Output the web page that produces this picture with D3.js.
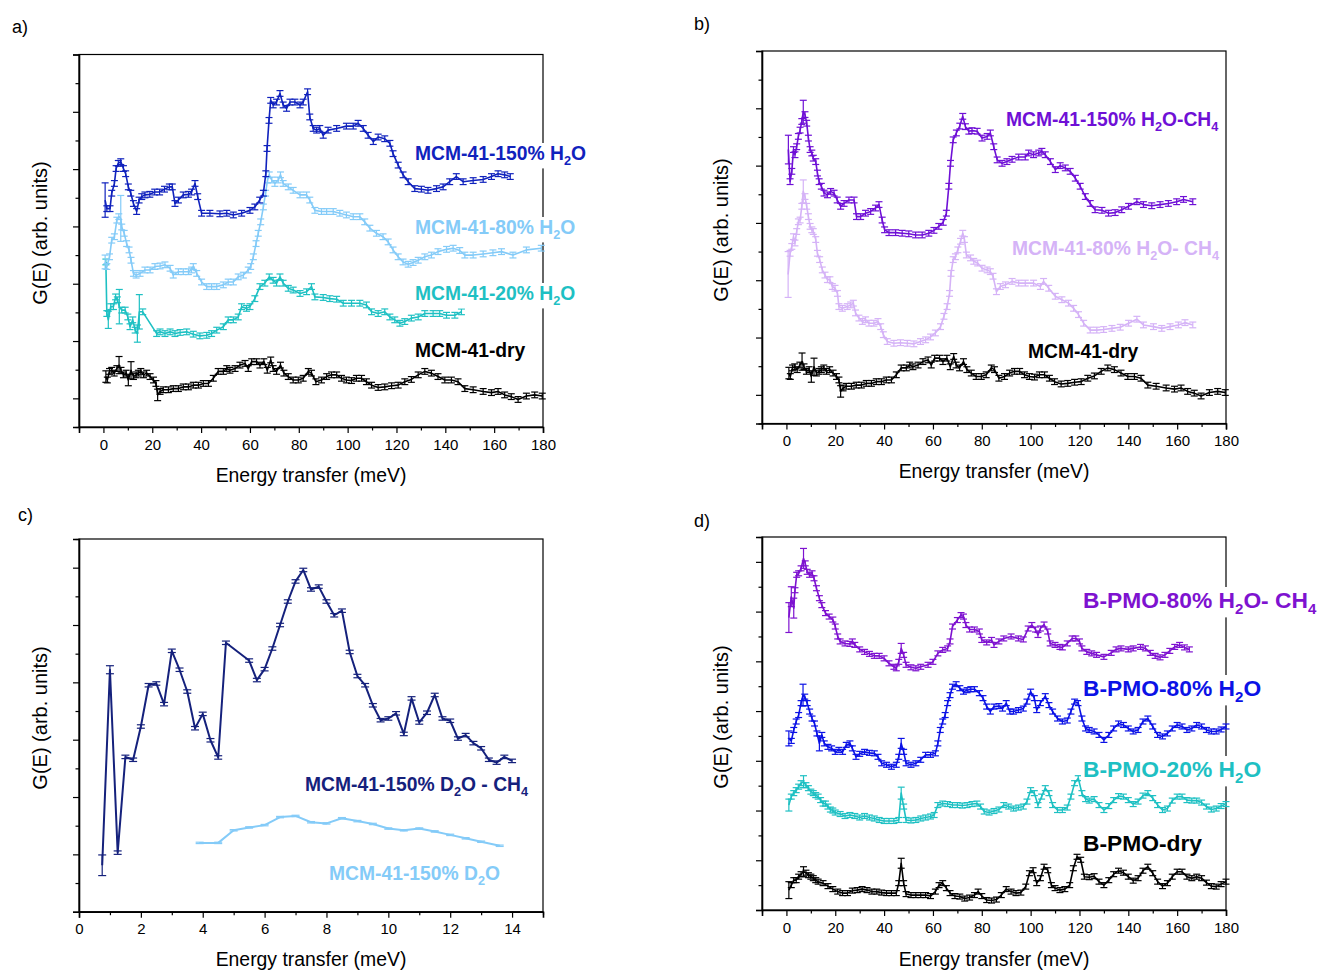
<!DOCTYPE html>
<html>
<head>
<meta charset="utf-8">
<script src="https://cdn.jsdelivr.net/npm/d3@7"></script>
<style>
  body { margin: 0; background: #fff; }
  svg { display: block; }
</style>
</head>
<body>
<script>
const W = 1319, H = 970;
const FONT = "'Liberation Sans', Arial, Helvetica, sans-serif";

// data points: [energy transfer (meV), G(E) (arb. units), optional error]
// panel a
const mcm150H2O = [[0.7,3.46,0.3],[1.4,3.31],[2.7,3.31],[3.4,3.58],[4.5,3.75],[5.2,4.01],[6.1,4.10],[7.1,4.13],[8.2,4.01],[9.1,3.92],[10.2,3.69],[11.2,3.58],[12.3,3.40],[13.6,3.26],[14.6,3.46],[15.7,3.52],[17,3.55],[19,3.56],[21,3.60],[23,3.60],[25,3.65],[27,3.69],[28.2,3.69],[29.3,3.40],[30.7,3.46],[32.7,3.55],[34.8,3.56],[36.1,3.60],[37.5,3.75],[38.6,3.52],[40.2,3.23],[43.6,3.23],[47.7,3.22],[50.5,3.23],[53.2,3.20],[56.6,3.23],[60,3.28],[62,3.34],[64,3.46],[65.5,3.58],[66.5,3.92],[67,4.36],[67.8,4.85],[68.5,5.20],[69.5,5.12],[70.9,5.17],[72.3,5.32],[73.6,5.12],[75,5.06],[76.4,5.17],[78.4,5.17],[80.5,5.12],[81.8,5.17],[83.6,5.35],[84.5,4.91],[85.9,4.71],[87.3,4.68],[88.6,4.71],[90,4.59],[92,4.68],[95.5,4.71],[99.5,4.75],[102.3,4.75],[104.3,4.80],[106.4,4.71],[108.4,4.59],[110.5,4.48],[112.5,4.56],[115.2,4.53],[117.3,4.45],[118.6,4.27],[120.7,4.07],[122.7,3.90],[124.8,3.78],[127.5,3.66],[130.2,3.65],[132.9,3.63],[136.4,3.66],[139.1,3.69],[141.8,3.78],[144.5,3.87],[147.3,3.78],[151.4,3.80],[155.5,3.82],[158.9,3.87],[161.6,3.92],[164.3,3.90],[166.6,3.87]];
const mcm80H2O = [[0.7,2.38,0.12],[1.4,2.30],[2.5,2.47],[3.4,2.76],[4.5,2.82],[5.5,3.11],[6.3,3.17],[7.1,3.14,0.4],[7.5,2.99],[8.5,2.88],[9.5,2.70],[10.5,2.59],[11.3,2.41],[12.3,2.18],[13.4,2.15],[15,2.18],[17,2.24],[19.1,2.24],[21.1,2.30],[23.2,2.31],[25.2,2.33],[27.3,2.27],[28.6,2.15],[30.7,2.21],[32.7,2.21],[34.8,2.21],[36.1,2.24],[36.8,2.30],[38.2,2.18],[40.2,2.03],[42.3,1.95],[44.3,1.95],[46.4,1.95],[49.1,1.98],[51.1,2.03],[53.2,2.03],[55.2,2.12],[57.3,2.15],[59.3,2.24],[60.3,2.30],[61.4,2.47],[62.5,2.70],[63.4,2.88],[64.4,3.08],[65.5,3.34],[66.4,3.58],[67.2,3.81],[67.9,3.90],[68.9,3.81],[70.2,3.75],[71.6,3.81],[72.5,3.90],[73.6,3.75],[75.7,3.69],[77.7,3.63],[80.5,3.55],[83.2,3.55],[84.5,3.46],[86.6,3.28],[89.3,3.26],[91.4,3.26],[94.1,3.26],[96.8,3.23],[99.5,3.20],[102.3,3.17],[105,3.17],[107,3.08],[109.1,2.97],[111.8,2.88],[114.5,2.82],[116.6,2.73],[118.6,2.59],[120.7,2.47],[122.7,2.38],[124.8,2.34],[126.8,2.37],[128.9,2.41],[131.6,2.47],[134.3,2.50],[137,2.56],[140.5,2.60],[143.2,2.62],[145.9,2.58],[148,2.50],[151.4,2.50],[155.5,2.52],[159.5,2.54],[163,2.56],[167.7,2.50],[173.2,2.59],[179.3,2.62]];
const mcm20H2O = [[1,2.38],[1.4,1.48],[2,1.37,0.15],[3,1.60],[4.1,1.60],[5,1.77],[5.7,1.72],[6.5,1.60,0.3],[7.5,1.54],[8.9,1.54],[10,1.42],[10.9,1.25],[12,1.37],[13,1.19],[13.9,1.13,0.15],[14.7,1.51,0.3],[16.1,1.51],[21.8,1.13],[23.2,1.16],[25.2,1.13],[27.3,1.16],[29.3,1.13],[31.4,1.15],[34.1,1.16],[36.8,1.12],[39.5,1.09],[42.3,1.10],[44.3,1.13],[46.4,1.19],[49.1,1.25],[51.1,1.37],[53.2,1.37],[55.2,1.42],[56.6,1.60],[58.6,1.57],[60,1.60],[62,1.74],[64.1,1.95],[66.1,2.01],[67.9,2.12],[69.5,2.06],[70.9,2.01],[72.3,2.12],[73.6,2.01],[75.7,1.92],[77.7,1.89],[80.5,1.83],[83.2,1.86],[85.2,1.95],[86.6,1.77],[90,1.76],[92.7,1.74],[95.5,1.73],[98.2,1.66],[101.6,1.66],[105,1.66],[107.7,1.63],[109.8,1.51],[112.5,1.48],[115.2,1.51],[117.3,1.42],[119.3,1.37],[121.4,1.31],[123.4,1.34],[126.1,1.40],[128.9,1.42],[131.6,1.48],[135,1.48],[137.7,1.48],[140.5,1.45],[143.9,1.45],[146.6,1.51]];
const mcmDry = [[1,0.38,0.1],[1.6,0.32],[2.5,0.47],[3.4,0.49],[4.4,0.44],[5.5,0.52],[6.4,0.58,0.15],[7.2,0.49],[8.2,0.41],[9.3,0.44],[10.2,0.32,0.1],[11.3,0.49,0.15],[12.3,0.38],[13.4,0.41],[14.3,0.44],[15.3,0.47],[16.4,0.41],[17.7,0.44],[19.1,0.38],[20.5,0.32],[21.5,0.26],[22.2,0.06,0.1],[23.2,0.12],[24.5,0.15],[26.6,0.15],[28.6,0.17],[30.7,0.17],[32.7,0.20],[34.8,0.20],[36.8,0.23],[38.9,0.23],[40.9,0.26],[43,0.26],[45,0.35],[47,0.47],[49.1,0.47],[50.5,0.52],[51.8,0.49],[53.9,0.52],[55.9,0.58],[58,0.61],[59.3,0.52],[60.7,0.64],[62.7,0.64],[64.1,0.58],[65.7,0.64],[67.1,0.49],[68.5,0.67],[69.5,0.52],[70.9,0.47],[72.5,0.58],[73.9,0.44],[75.7,0.38],[77.7,0.32],[79.8,0.32],[81.8,0.35],[83.9,0.47],[85.2,0.44],[87,0.29],[89.3,0.32],[91.4,0.38],[93.4,0.41],[95.5,0.41],[97.5,0.35],[99.5,0.32],[101.6,0.31],[103.6,0.35],[105.7,0.35],[107.7,0.29],[109.8,0.23],[112.5,0.19],[115.2,0.20],[118,0.22],[120.7,0.23],[123.4,0.29],[126.1,0.33],[128.9,0.41],[131.6,0.47],[134.3,0.44],[137,0.38],[139.8,0.32],[142.5,0.32],[145.2,0.29],[148,0.17],[151.4,0.15],[155.5,0.12],[158.9,0.10],[161.6,0.12],[164.3,0.06],[167,0.03],[169.8,-0.02],[173.2,0.04],[176.6,0.06],[179.7,0.04]];
// panel b
const mcm150H2OCH4 = [[0.8,4.28,0.25],[1.5,3.72],[2.2,3.90],[2.9,4.28],[3.5,4.19],[4.2,4.33],[4.9,4.51],[5.6,4.62],[6.3,4.77],[6.9,4.94,0.2],[7.6,4.89],[8.3,4.74],[9.0,4.48],[9.7,4.28],[10.4,4.22],[11.0,4.13],[12.0,4.07],[12.7,3.87],[13.4,3.72],[14.3,3.64],[15.4,3.52],[16.8,3.49],[18.1,3.55],[19.5,3.52],[20.8,3.40],[22.2,3.29],[23.6,3.34],[25.6,3.40],[27.7,3.40],[28.7,3.11],[30.4,3.11],[32.4,3.17],[34.5,3.20],[36.5,3.26],[37.9,3.32],[39.2,3.05],[40.2,2.88],[42.0,2.83],[44.7,2.83],[47.4,2.82],[50.1,2.81],[52.9,2.79],[55.6,2.79],[58.3,2.82],[60.4,2.87],[62.4,2.94],[64.2,3.01],[65.5,3.17],[66.5,3.64],[67.2,4.04],[68.3,4.45],[69.6,4.57],[71.0,4.69],[72.2,4.86],[73.3,4.68],[74.7,4.60],[76.0,4.61],[78.1,4.60],[80.1,4.48],[82.2,4.51],[83.5,4.57],[84.9,4.33],[86.3,4.10],[88.3,4.04],[90.3,4.07],[92.4,4.11],[95.1,4.15],[97.8,4.15],[99.2,4.22],[101.2,4.19],[103.3,4.22],[104.6,4.25],[106.0,4.19],[108.1,4.07],[110.1,3.93],[112.1,4.00],[114.2,3.96],[116.2,3.90],[118.3,3.78],[120.3,3.64],[122.4,3.46],[124.4,3.34],[126.4,3.23],[129.2,3.22],[131.9,3.17],[134.6,3.18],[137.3,3.23],[140.1,3.29],[143.5,3.37],[146.2,3.32],[149.6,3.30],[153.0,3.32],[156.4,3.34],[159.8,3.37],[162.6,3.41],[166.4,3.37]];
const mcm80H2OCH4 = [[0.7,2.10,0.4],[1.5,2.47],[2.2,2.59],[2.9,2.76],[3.5,2.65],[4.2,2.85],[4.9,3.02],[5.6,3.05],[6.3,3.29],[6.9,3.55,0.2],[7.6,3.46],[8.3,3.29],[9.0,3.11],[9.7,2.94],[10.4,2.88],[11.0,2.85],[12.0,2.71],[12.7,2.47],[13.6,2.36],[14.7,2.18],[15.8,2.09],[16.8,2.01],[17.8,2.01],[18.8,1.89],[19.9,1.86],[20.9,1.77],[21.5,1.54],[22.9,1.51],[24.9,1.54],[26.3,1.57],[27.4,1.60],[28.3,1.43],[29.7,1.34],[31.1,1.28],[32.4,1.31],[33.8,1.25],[35.8,1.25],[37.5,1.28],[38.6,1.19],[39.7,1.05],[41.3,0.93],[44.0,0.90],[46.7,0.91],[49.5,0.90],[52.2,0.89],[54.9,0.93],[57.0,0.96],[59.0,1.01],[61.0,1.08],[63.1,1.19],[64.5,1.37],[65.8,1.54],[66.8,1.77],[67.4,2.12],[68.3,2.36],[69.2,2.41],[70.2,2.53],[71.3,2.68],[72.2,2.82],[72.9,2.71],[73.7,2.44],[75.4,2.39],[76.7,2.33],[78.3,2.30],[80.1,2.21],[82.2,2.18],[83.5,2.15],[84.6,2.07],[86.0,1.80],[87.6,1.89],[89.7,1.92],[92.4,1.98],[95.1,1.95],[97.8,1.95],[101.2,1.95],[104.0,1.89],[105.3,1.98],[107.4,1.86],[110.1,1.72],[112.8,1.66],[115.5,1.60],[117.6,1.51],[119.6,1.40],[121.7,1.25],[124.4,1.13],[127.1,1.13],[129.9,1.14],[133.3,1.16],[136.7,1.18],[140.1,1.25],[143.5,1.32],[146.2,1.22],[150.3,1.19],[153.7,1.16],[157.1,1.19],[160.5,1.22],[163.2,1.26],[166.4,1.22]];
// panel c
const mcm150D2OCH4 = [[0.75,0.81,0.18],[1.0,4.22,0.07],[1.25,1.03],[1.5,2.70],[1.75,2.65],[2.0,3.23],[2.25,3.95],[2.5,3.98],[2.75,3.62],[3.0,4.55],[3.25,4.22],[3.5,3.84],[3.75,3.20],[4.0,3.45],[4.25,2.99],[4.5,2.69],[4.75,4.69],[5.5,4.38],[5.75,4.04],[6.0,4.23],[6.25,4.59],[6.5,5.00],[6.75,5.41],[7.0,5.76],[7.25,5.96],[7.5,5.62],[7.75,5.67],[8.0,5.41],[8.25,5.17],[8.5,5.25],[8.75,4.53],[9.0,4.11],[9.25,3.95],[9.5,3.60],[9.75,3.34],[10.0,3.37],[10.25,3.46],[10.5,3.10],[10.75,3.72],[11.0,3.30],[11.25,3.47],[11.5,3.78],[11.75,3.37],[12.0,3.33],[12.25,3.02],[12.5,3.08],[12.75,2.94],[13.0,2.85],[13.25,2.65],[13.5,2.60],[13.75,2.70],[14.0,2.63]];
const mcm150D2O = [[3.9,1.20],[4.5,1.20],[5.0,1.42],[5.5,1.47],[6.0,1.51],[6.5,1.65],[7.0,1.67],[7.5,1.56],[8.0,1.54],[8.5,1.63],[9.0,1.58],[9.5,1.53],[10.0,1.45],[10.5,1.42],[11.0,1.45],[11.5,1.40],[12.0,1.34],[12.5,1.28],[13.0,1.22],[13.6,1.15]];
// panel d
const pmo80H2OCH4 = [[1,5.88,0.3],[2,6.30,0.2],[3,6.07,0.2],[3.5,6.43],[4.2,6.74],[5,6.77],[6,6.87],[7,7.07,0.2],[7.7,6.97],[8.5,6.80],[9.5,6.74],[10.5,6.77],[11.3,6.67],[12.3,6.47],[13.5,6.27],[14.5,6.13],[16,5.97],[17.5,5.90],[19,5.84],[20,5.70],[21,5.50],[22,5.40],[24,5.36],[26,5.35],[27,5.40],[28,5.33],[30,5.24],[32,5.19],[34,5.15],[36,5.11],[38,5.11],[40,5.06],[42,4.96],[44,4.89],[45,4.86],[46,4.99],[47,5.26,0.1],[48,5.13],[49,4.93],[51,4.88],[53,4.86],[55,4.89],[58,4.93],[60,4.99],[62,5.16],[64,5.23],[66,5.26],[67,5.40],[68,5.70],[70,5.83],[71.5,5.93],[72.5,5.90],[73.5,5.73],[75,5.64],[77,5.64],[79,5.60],[80,5.43],[82,5.38],[84,5.43],[85,5.33],[87,5.40],[89,5.46],[92,5.50],[95,5.46],[97,5.44],[99,5.66],[100.5,5.73],[102,5.64],[103,5.53],[104,5.66],[105.5,5.74],[107,5.60],[108,5.36],[110,5.33],[112,5.29],[113,5.28],[115,5.36],[117,5.46],[118.5,5.46],[120,5.40],[121,5.26],[123,5.19],[125,5.16],[127,5.13],[130,5.09],[133,5.17],[135,5.24],[137,5.26],[140,5.24],[142,5.26],[145,5.29],[147,5.26],[149,5.17],[151,5.11],[153,5.08],[155,5.13],[157,5.21],[159,5.29],[161,5.33],[163,5.28],[165,5.24]];
const pmo80H2O = [[1,3.45,0.15],[2,3.40],[3,3.62],[4,3.79],[5,3.92],[6,4.16],[6.8,4.32,0.22],[7.5,4.29],[8.5,4.16],[9.5,3.99],[10.5,3.85],[11.5,3.75],[12.5,3.55],[13.5,3.35,0.15],[14.5,3.52],[15.5,3.35],[17,3.28],[18.5,3.25],[20,3.18],[21.5,3.22],[23,3.18],[24.5,3.32],[26,3.35],[27,3.25],[28.5,3.08],[30,3.14],[32,3.18],[34,3.16],[36,3.15],[37.5,3.08],[39,2.95],[41,2.92],[43,2.88],[45,2.92],[46,3.08],[47,3.35,0.1],[48,3.18],[49,2.95],[51,2.92],[53,2.95],[55,3.02],[57,3.12],[59,3.12],[61,3.15],[62,3.35],[63,3.62],[64,3.79],[65,3.92],[66,4.16],[67,4.32],[68,4.49],[69.5,4.54],[71,4.46],[72.5,4.39],[74,4.42],[75.5,4.44],[77,4.44],[79,4.36],[80.5,4.26],[82,4.09],[83.5,3.99],[85,4.09],[87,4.10],[88.5,4.05],[90,4.16],[91.5,3.99],[93,3.99],[95,4.02],[97,4.05],[98.5,4.19],[100,4.39],[101.5,4.26],[102.5,4.02],[104,4.16],[106,4.30],[107.5,4.12],[109,3.99],[111,3.85],[113,3.79],[115,3.81],[116.5,3.99],[118,4.19],[119.5,4.16],[121,3.85],[122.5,3.65],[124,3.62],[126,3.59],[128,3.52],[130,3.42],[132,3.52],[134,3.65],[136,3.75],[138,3.72],[140,3.65],[142,3.59],[144,3.62],[146,3.79],[148,3.85],[150,3.69],[152,3.52],[154,3.49],[156,3.55],[158,3.65],[160,3.72],[162,3.69],[164,3.62],[166,3.65],[168,3.72],[170,3.69],[172,3.62],[174,3.59],[176,3.59],[178,3.63],[180,3.69]];
const pmo20H2O = [[1,2.11,0.12],[2,2.28],[3,2.35],[4,2.41],[5,2.48],[6,2.55],[7,2.58,0.12],[8,2.51],[9,2.45],[10,2.38],[11,2.35],[12,2.31],[13,2.28],[14,2.21],[15,2.14],[16,2.14],[17,2.08],[18,2.02],[19,2.00],[20,1.96],[22,1.93],[24,1.89],[26,1.91],[28,1.89],[30,1.86],[32,1.89],[34,1.86],[36,1.84],[38,1.81],[40,1.79],[42,1.79],[44,1.79],[46,1.81],[47,2.35,0.12],[48,2.08],[49,1.81],[51,1.80],[53,1.81],[55,1.84],[57,1.86],[59,1.88],[60.5,1.91],[62,2.11],[64,2.14],[66,2.13],[68,2.11],[70,2.11],[72,2.10],[74,2.11],[76,2.13],[78,2.14],[79.5,2.08],[81,1.98],[83,1.96],[85,1.99],[87,2.02],[89,2.11],[91,2.08],[93,2.04],[95,2.06],[97,2.08],[98.5,2.18],[100,2.41],[101.5,2.35],[103,2.11],[104.5,2.28],[106,2.45],[107.5,2.35],[109,2.11],[111,2.01],[113,2.01],[115,2.06],[116.5,2.28],[118,2.55],[119.5,2.65],[121,2.35],[122.5,2.23],[124,2.20],[126,2.23],[128,2.11],[130,2.01],[132,2.09],[134,2.21],[136,2.29],[138,2.28],[140,2.21],[142,2.13],[144,2.18],[146,2.30],[148,2.35],[150,2.25],[152,2.11],[154,2.01],[156,2.04],[158,2.20],[160,2.28],[162,2.28],[164,2.21],[166,2.20],[168,2.20],[170,2.16],[172,2.08],[174,2.02],[176,2.04],[178,2.09],[180,2.13]];
const pmoDry = [[1,0.40,0.17],[2,0.50],[3,0.60],[4,0.60],[5,0.67],[6,0.72],[7,0.77,0.1],[8,0.75],[9,0.70],[10,0.67],[11,0.64],[12,0.60],[13,0.57],[15,0.54],[17,0.48],[19,0.42],[21,0.37],[23,0.34],[25,0.34],[27,0.39],[29,0.40],[31,0.42],[33,0.40],[35,0.37],[37,0.37],[39,0.35],[41,0.34],[43,0.34],[45,0.34],[46,0.54],[47,0.94,0.1],[48,0.54],[49,0.32],[51,0.30],[53,0.30],[55,0.30],[57,0.30],[59,0.28],[61,0.37],[62.5,0.50],[64,0.54],[65.5,0.44],[67,0.34],[69,0.28],[71,0.27],[73,0.23],[75,0.25],[77,0.30],[78.5,0.37],[80,0.28],[82,0.20],[84,0.19],[86,0.21],[88,0.30],[90,0.42],[92,0.37],[94,0.34],[96,0.35],[98,0.47],[99.5,0.74],[101,0.80],[102.5,0.54],[104,0.64],[105.5,0.87],[107,0.80],[108.5,0.50],[110,0.44],[112,0.40],[114,0.42],[116,0.50],[117.5,0.84],[119,1.07],[120.5,1.01],[122,0.67],[124,0.66],[126,0.68],[128,0.57],[130,0.50],[132,0.60],[134,0.72],[136,0.79],[138,0.75],[140,0.67],[142,0.59],[144,0.64],[146,0.79],[148,0.87],[150,0.74],[152,0.57],[154,0.48],[156,0.54],[158,0.67],[160,0.77],[162,0.77],[164,0.67],[166,0.64],[168,0.67],[170,0.64],[172,0.55],[174,0.48],[176,0.47],[178,0.52],[180,0.57]];

// tick values
const meVTicks = [0, 20, 40, 60, 80, 100, 120, 140, 160, 180];
const meVMinor = [-10, 10, 30, 50, 70, 90, 110, 130, 150, 170];
const lowTicks = [0, 2, 4, 6, 8, 10, 12, 14];
const lowMinor = [1, 3, 5, 7, 9, 11, 13, 15];

const xTitle = "Energy transfer (meV)";
const yTitle = "G(E) (arb. units)";

// colours
const cDarkBlue = "#1022bd", cLightBlue = "#84cbf8", cTeal = "#1ec0c3",
      cPurple = "#6f10d6", cLavender = "#d5b3f7", cNavy = "#15217c",
      cViolet = "#7e12d0", cBlue = "#0b12e6", cBlack = "#000";

const svg = d3.select("body").append("svg")
    .attr("width", W)
    .attr("height", H)
    .style("font-family", FONT);

// labels use [text, isSubscript] runs
const panels = [
  {
    tag: "a)", tagPos: [12, 33],
    left: 79, right: 543, top: 54.5, bottom: 427,
    xDomain: [-10, 180], yDomain: [-0.5, 6],
    xTicks: meVTicks, xMinor: meVMinor,
    err: 0.05, cap: 3.5,
    series: [
      { data: mcmDry, color: cBlack },
      { data: mcm20H2O, color: cTeal },
      { data: mcm80H2O, color: cLightBlue },
      { data: mcm150H2O, color: cDarkBlue }
    ],
    labels: [
      { runs: [["MCM-41-150% H"], ["2", 1], ["O"]], x: 415, y: 160, color: cDarkBlue },
      { runs: [["MCM-41-80% H"], ["2", 1], ["O"]], x: 415, y: 234, color: cLightBlue },
      { runs: [["MCM-41-20% H"], ["2", 1], ["O"]], x: 415, y: 300, color: cTeal },
      { runs: [["MCM-41-dry"]], x: 415, y: 357, color: cBlack }
    ],
    fontSize: 19.3, yTitleX: 47, yTitleY: 233, xTitleY: 482
  },
  {
    tag: "b)", tagPos: [694, 30],
    left: 762, right: 1226, top: 51, bottom: 423.5,
    xDomain: [-10, 180], yDomain: [-0.5, 6],
    xTicks: meVTicks, xMinor: meVMinor,
    err: 0.05, cap: 3.5,
    series: [
      { data: mcmDry, color: cBlack },
      { data: mcm80H2OCH4, color: cLavender },
      { data: mcm150H2OCH4, color: cPurple }
    ],
    labels: [
      { runs: [["MCM-41-150% H"], ["2", 1], ["O-CH"], ["4", 1]], x: 1006, y: 126, color: cPurple },
      { runs: [["MCM-41-80% H"], ["2", 1], ["O- CH"], ["4", 1]], x: 1012, y: 255, color: cLavender },
      { runs: [["MCM-41-dry"]], x: 1028, y: 358, color: cBlack }
    ],
    fontSize: 19.3, yTitleX: 728, yTitleY: 230, xTitleY: 478
  },
  {
    tag: "c)", tagPos: [18, 521],
    left: 79, right: 543, top: 539, bottom: 911.7,
    xDomain: [0, 15], yDomain: [0, 6.5],
    xTicks: lowTicks, xMinor: lowMinor,
    err: 0.03, cap: 4, lineWidth: 2,
    series: [
      { data: mcm150D2O, color: cLightBlue, err: 0.012 },
      { data: mcm150D2OCH4, color: cNavy }
    ],
    labels: [
      { runs: [["MCM-41-150% D"], ["2", 1], ["O - CH"], ["4", 1]], x: 305, y: 791, color: cNavy },
      { runs: [["MCM-41-150% D"], ["2", 1], ["O"]], x: 329, y: 880, color: cLightBlue }
    ],
    fontSize: 19.3, yTitleX: 47, yTitleY: 718, xTitleY: 966
  },
  {
    tag: "d)", tagPos: [694, 527],
    left: 762, right: 1226, top: 537, bottom: 910,
    xDomain: [-10, 180], yDomain: [0, 7.5],
    xTicks: meVTicks, xMinor: meVMinor,
    err: 0.05, cap: 3.5,
    series: [
      { data: pmoDry, color: cBlack },
      { data: pmo20H2O, color: cTeal },
      { data: pmo80H2O, color: cBlue },
      { data: pmo80H2OCH4, color: cViolet }
    ],
    labels: [
      { runs: [["B-PMO-80% H"], ["2", 1], ["O- CH"], ["4", 1]], x: 1083, y: 608, color: cViolet },
      { runs: [["B-PMO-80% H"], ["2", 1], ["O"]], x: 1083, y: 696, color: cBlue },
      { runs: [["B-PMO-20% H"], ["2", 1], ["O"]], x: 1083, y: 777, color: cTeal },
      { runs: [["B-PMO-dry"]], x: 1083, y: 851, color: cBlack }
    ],
    fontSize: 22.8, yTitleX: 728, yTitleY: 717, xTitleY: 966
  }
];

function drawPanel(p) {
  const x = d3.scaleLinear().domain(p.xDomain).range([p.left, p.right]);
  const y = d3.scaleLinear().domain(p.yDomain).range([p.bottom, p.top]);
  const g = svg.append("g");

  // frame
  g.append("rect")
      .attr("x", p.left).attr("y", p.top)
      .attr("width", p.right - p.left).attr("height", p.bottom - p.top)
      .attr("fill", "none").attr("stroke", "#000").attr("stroke-width", 1.2);

  // x axis, major + minor ticks
  const xa = g.append("g").attr("transform", `translate(0,${p.bottom})`)
      .call(d3.axisBottom(x).tickValues(p.xTicks).tickSize(6).tickPadding(6).tickFormat(d3.format("d")));
  xa.select(".domain").attr("stroke-width", 1.6);
  xa.selectAll(".tick line").attr("stroke-width", 1.2);
  xa.selectAll("text").attr("font-size", 15).attr("font-family", FONT).attr("fill", "#000");
  const xm = g.append("g").attr("transform", `translate(0,${p.bottom})`)
      .call(d3.axisBottom(x).tickValues(p.xMinor).tickSize(3.5).tickFormat(""));
  xm.select(".domain").remove();
  xm.selectAll(".tick line").attr("stroke-width", 1.2);

  // y axis: long ticks on whole units, short on halves, no labels
  const yVals = d3.range(Math.ceil(p.yDomain[0] * 2) / 2, p.yDomain[1] + 0.001, 0.5);
  const ya = g.append("g").attr("transform", `translate(${p.left},0)`)
      .call(d3.axisLeft(y).tickValues(yVals.filter(v => Math.abs(v % 1) < 1e-6)).tickSize(6).tickFormat(""));
  ya.select(".domain").attr("stroke-width", 1.6);
  ya.selectAll(".tick line").attr("stroke-width", 1.2);
  const ym = g.append("g").attr("transform", `translate(${p.left},0)`)
      .call(d3.axisLeft(y).tickValues(yVals.filter(v => Math.abs(v % 1) > 1e-6)).tickSize(3.5).tickFormat(""));
  ym.select(".domain").remove();
  ym.selectAll(".tick line").attr("stroke-width", 1.2);

  // titles
  g.append("text")
      .attr("x", (p.left + p.right) / 2).attr("y", p.xTitleY)
      .attr("text-anchor", "middle").attr("font-size", 19.4)
      .text(xTitle);
  g.append("text")
      .attr("transform", `translate(${p.yTitleX},${p.yTitleY}) rotate(-90)`)
      .attr("text-anchor", "middle").attr("font-size", 20)
      .text(yTitle);
  svg.append("text")
      .attr("x", p.tagPos[0]).attr("y", p.tagPos[1])
      .attr("font-size", 18)
      .text(p.tag);

  // series: line + error bars
  const line = d3.line().x(d => x(d[0])).y(d => y(d[1]));
  p.series.forEach(s => {
    const sg = g.append("g").attr("stroke", s.color).attr("fill", "none");
    sg.append("path")
        .attr("d", line(s.data))
        .attr("stroke-width", p.lineWidth || 1.6)
        .attr("stroke-linejoin", "round");
    const eb = sg.selectAll(".eb").data(s.data).join("g").attr("stroke-width", 1.2);
    const e = d => (d[2] !== undefined ? d[2] : (s.err !== undefined ? s.err : p.err));
    eb.append("line")
        .attr("x1", d => x(d[0])).attr("x2", d => x(d[0]))
        .attr("y1", d => y(d[1] - e(d))).attr("y2", d => y(d[1] + e(d)));
    [1, -1].forEach(sign => {
      eb.append("line")
          .attr("x1", d => x(d[0]) - p.cap).attr("x2", d => x(d[0]) + p.cap)
          .attr("y1", d => y(d[1] + sign * e(d))).attr("y2", d => y(d[1] + sign * e(d)));
    });
  });

  // curve labels, white box behind (covers the right frame like the original)
  p.labels.forEach(l => {
    const lg = svg.append("g");
    const t = lg.append("text")
        .attr("x", l.x).attr("y", l.y)
        .attr("font-size", p.fontSize).attr("font-weight", "bold")
        .attr("fill", l.color);
    let shifted = false;
    l.runs.forEach(r => {
      const ts = t.append("tspan").text(r[0]);
      if (r[1] && !shifted) { ts.attr("dy", p.fontSize * 0.28).attr("font-size", p.fontSize * 0.66); shifted = true; }
      else if (!r[1] && shifted) { ts.attr("dy", -p.fontSize * 0.28); shifted = false; }
    });
    const bb = t.node().getBBox();
    lg.insert("rect", "text")
        .attr("x", bb.x - 2).attr("y", bb.y)
        .attr("width", bb.width + 4).attr("height", bb.height)
        .attr("fill", "#fff");
  });
}

panels.forEach(drawPanel);
</script>
</body>
</html>
